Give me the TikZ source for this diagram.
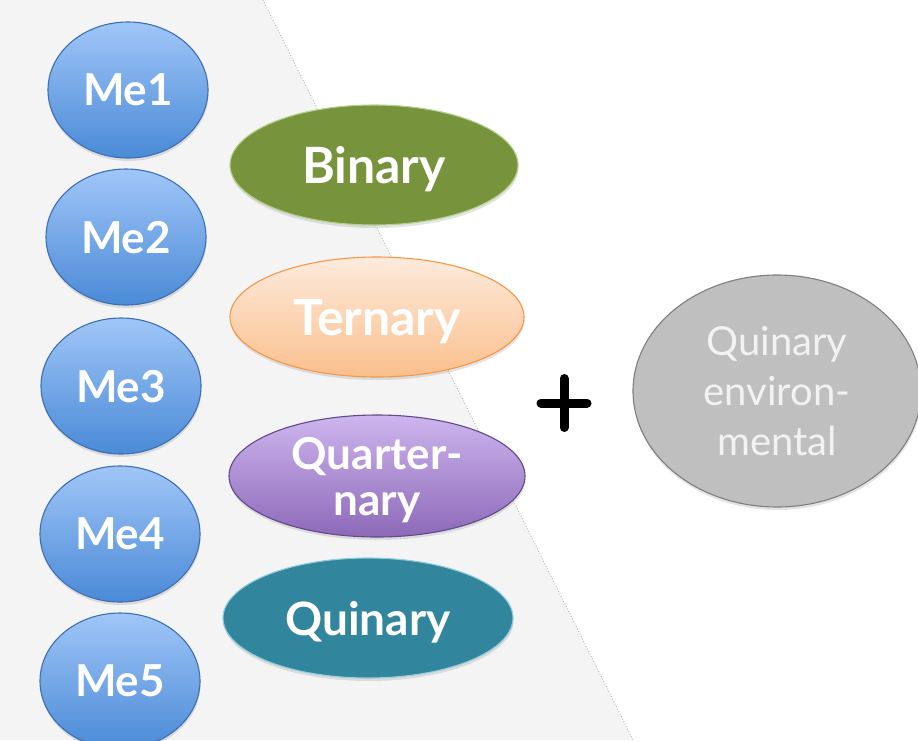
\documentclass[tikz,border=0pt]{standalone}
\usepackage{fontspec}
\setmainfont{Lato}
\usetikzlibrary{shapes.geometric,shadows}
\definecolor{bgfill}{HTML}{F4F4F5}
\definecolor{edgecol}{HTML}{A8A8A8}
\definecolor{metop}{HTML}{A0C6F8}
\definecolor{mebot}{HTML}{4A8AD6}
\definecolor{meborder}{HTML}{3D6FB5}
\definecolor{binfill}{HTML}{77933C}
\definecolor{binborder}{HTML}{B5D18E}
\definecolor{tertop}{HTML}{FDEBDD}
\definecolor{terbot}{HTML}{FABF8C}
\definecolor{terborder}{HTML}{F79646}
\definecolor{qtop}{HTML}{CDB5EE}
\definecolor{qbot}{HTML}{8D69B8}
\definecolor{qborder}{HTML}{60498D}
\definecolor{quifill}{HTML}{31859C}
\definecolor{quiborder}{HTML}{93CDDD}
\definecolor{envfill}{HTML}{BFBFBF}
\definecolor{envborder}{HTML}{7F7F7F}
\definecolor{envtext}{HTML}{F2F2F2}
\begin{document}
\begin{tikzpicture}[x=1pt,y=-1pt,
  shadowed/.style={drop shadow={opacity=0.22,shadow xshift=0.5pt,shadow yshift=-3pt}},
  oval/.style={ellipse,inner sep=0pt,text depth=0pt,align=center,line width=1.1pt,shadowed},
  mebox/.style={oval,minimum width=160pt,minimum height=136pt,
     top color=metop,bottom color=mebot,draw=meborder,text=white,
     font=\bfseries\fontsize{44}{44}\selectfont},
  bigtxt/.style={text=white,font=\bfseries\fontsize{50}{50}\selectfont},
  midtxt/.style={text=white,font=\bfseries\fontsize{44}{46}\selectfont},
  plusbar/.style={line width=9pt,line cap=round,draw=black}
]
\useasboundingbox (0,0) rectangle (918,740);
\clip (0,0) rectangle (918,740);
% background region
\fill[bgfill] (0,0) -- (263,0) -- (633,740) -- (0,740) -- cycle;
\coordinate (edgetop) at (263,0);
\coordinate (edgebot) at (633,740);
\draw[edgecol,dotted,line width=0.8pt] (edgetop) -- (edgebot);
% Me circles
\node[mebox] (me1) at (128,90) {Me1};
\node[mebox] (me2) at (126,237) {Me2};
\node[mebox] (me3) at (121,386) {Me3};
\node[mebox] (me4) at (120,534) {Me4};
\node[mebox] (me5) at (120,681) {Me5};
% interaction ellipses
\node[oval,minimum width=288pt,minimum height=120pt,fill=binfill,draw=binborder,bigtxt] (binary) at (374,165) {Binary};
\node[oval,minimum width=294pt,minimum height=120pt,top color=tertop,bottom color=terbot,draw=terborder,bigtxt] (ternary) at (377,317) {Ternary};
\node[oval,minimum width=296pt,minimum height=122pt,top color=qtop,bottom color=qbot,draw=qborder,midtxt] (quarter) at (377,476) {Quarter-\\nary};
\node[oval,minimum width=290pt,minimum height=120pt,fill=quifill,draw=quiborder,text=white,font=\bfseries\fontsize{46}{46}\selectfont] (quinary) at (368,618) {Quinary};
% plus sign
\coordinate (plusc) at (564,403);
\draw[plusbar] ([xshift=-23pt]plusc) -- ([xshift=23pt]plusc);
\draw[plusbar] ([yshift=24.5pt]plusc) -- ([yshift=-24.5pt]plusc);
% environmental ellipse
\node[oval,minimum width=288pt,minimum height=232pt,fill=envfill,draw=envborder,text=envtext,
      font=\fontsize{40}{50}\selectfont] (env) at (777,391) {Quinary\\environ-\\mental};
\end{tikzpicture}
\end{document}
